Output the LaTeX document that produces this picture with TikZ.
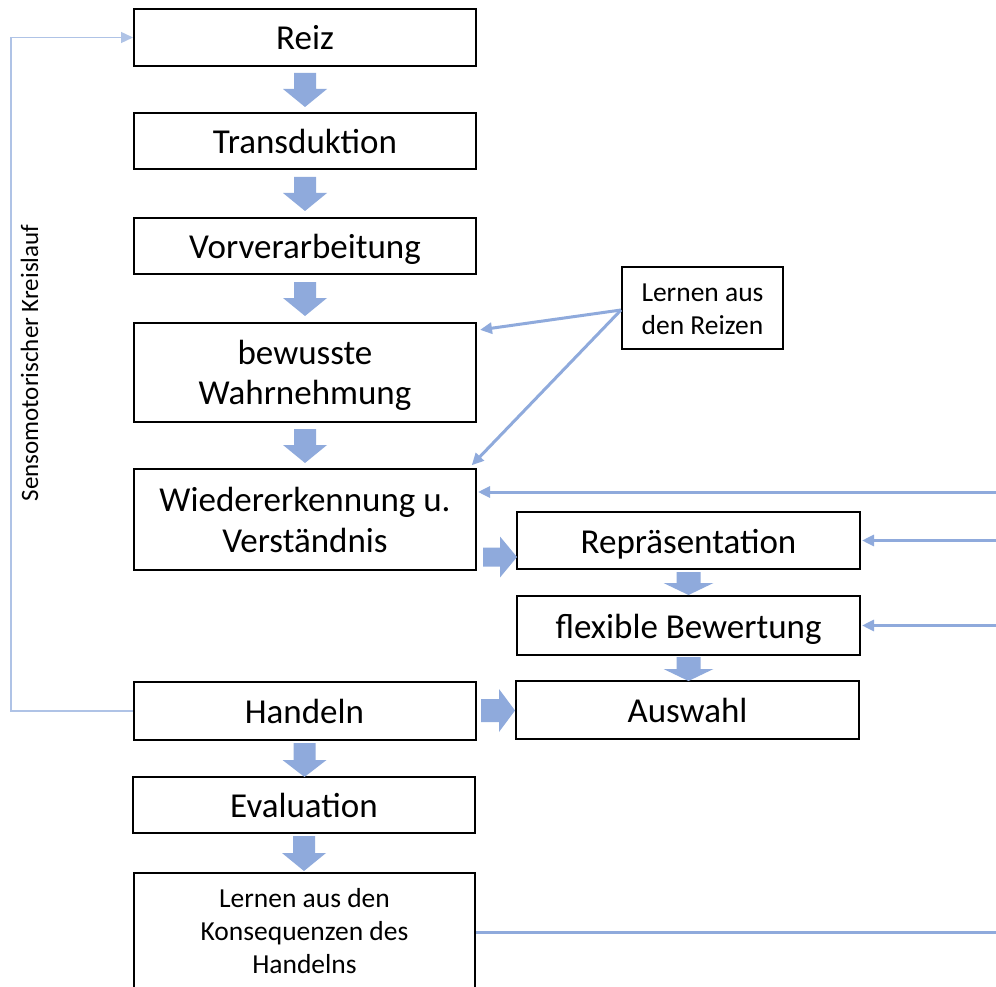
\documentclass[tikz,border=0pt]{standalone}
\usepackage{fontspec}
\setmainfont{Carlito}
\usetikzlibrary{arrows.meta,calc}
\definecolor{flowblue}{HTML}{8FAADC}
\definecolor{loopblue}{HTML}{AFC3E6}
% line struts for the two text sizes
\newcommand\bigstrut{\rule[-7.75pt]{0pt}{40.5pt}}
\newcommand\smallstrut{\rule[-6.75pt]{0pt}{33pt}}
\tikzset{
  stage/.style={draw=black, line width=2pt, fill=white, minimum width=342pt,
    inner sep=0pt, align=center, font=\fontsize{35}{40.5}\selectfont},
  smalltext/.style={font=\fontsize{27.5}{33}\selectfont},
  flowline/.style={draw=flowblue, line width=3pt, shorten >=1pt,
    -{Triangle[length=12pt, width=11pt]}},
  plainline/.style={draw=flowblue, line width=3pt},
  loopline/.style={draw=loopblue, line width=1.4pt,
    -{Triangle[length=12pt, width=11pt]}},
  % block arrows: total length / head length / half shaft width / half head width
  pics/downblock/.style args={#1/#2/#3/#4}{code={
    \fill[flowblue] (-#3,0) -- (#3,0) -- (#3,#1-#2) -- (#4,#1-#2) -- (0,#1)
      -- (-#4,#1-#2) -- (-#3,#1-#2) -- cycle;}},
  pics/rightblock/.style args={#1/#2/#3/#4}{code={
    \fill[flowblue] (0,-#3) -- (#1-#2,-#3) -- (#1-#2,-#4) -- (#1,0)
      -- (#1-#2,#4) -- (#1-#2,#3) -- (0,#3) -- cycle;}}
}
\begin{document}
\begin{tikzpicture}[x=1pt, y=-1pt]
\useasboundingbox (0,0) rectangle (996,987);
\clip (0,0) rectangle (996,987);
\fill[white] (0,0) rectangle (996,987);

% main column
\node[stage, minimum height=57pt] (reiz) at (305,37.5) {\bigstrut Reiz};
\node[stage, minimum height=56pt] (trans) at (305,141) {\bigstrut Transduktion};
\node[stage, minimum height=56pt] (vorv) at (305,246) {\bigstrut Vorverarbeitung};
\node[stage, minimum height=99pt] (wahr) at (305,372) {\bigstrut bewusste\\\bigstrut Wahrnehmung};
\node[stage, minimum height=101pt] (wieder) at (305,519.5) {\bigstrut Wiedererkennung u.\\\bigstrut Verständnis};
\node[stage, minimum height=58pt] (handeln) at (304.5,711) {\bigstrut Handeln};
\node[stage, minimum height=56pt] (eval) at (304,805) {\bigstrut Evaluation};
\node[stage, smalltext, minimum width=341pt, minimum height=116pt] (konseq) at (304.5,931)
  {\smallstrut Lernen aus den\\\smallstrut Konsequenzen des\\\smallstrut Handelns};

% side column
\node[stage, minimum width=343pt, minimum height=57pt] (repr) at (688.5,540.5) {\bigstrut Repräsentation};
\node[stage, minimum width=343pt, minimum height=59pt] (bewert) at (688.5,625.5) {\bigstrut flexible Bewertung};
\node[stage, minimum width=343pt, minimum height=58pt] (auswahl) at (687.5,710) {\bigstrut Auswahl};

% note box
\node[stage, smalltext, minimum width=161pt, minimum height=82pt] (reize) at (702.5,308)
  {\smallstrut Lernen aus\\\smallstrut den Reizen};

% loop label
\node[rotate=90, inner sep=0pt, font=\fontsize{25}{30}\selectfont] (kreis) at (29.5,363)
  {Sensomotorischer Kreislauf};

% block arrows down the main column
\pic at ($(reiz.south)+(0,6)$) {downblock=34/18/11/22};
\pic at ($(trans.south)+(0,7)$) {downblock=34/18/11/22};
\pic at ($(vorv.south)+(0,7)$) {downblock=34/18/11/22};
\pic at ($(wahr.south)+(0,6.5)$) {downblock=34/18/11/22};
\pic at ($(handeln.south)+(0,2)$) {downblock=34/17/11/22};
\pic at ($(eval.south)+(0,2)$) {downblock=35/18/11/22};

% block arrows in the side column
\pic at ($(repr.south)+(0,2)$) {downblock=23/12/12/25};
\pic at ($(bewert.south)+(0,1)$) {downblock=24/12/12/25};

% block arrows across
\pic at ($(wieder.east |- repr.center)+(6,16.5)$) {rightblock=34/17/9.5/20.5};
\pic at ($(handeln.east)+(4.5,-0.5)$) {rightblock=34/16/11.5/21.5};

% sensorimotor loop
\draw[loopline] (handeln.west) -- ++(-121.5,0) |- (reiz.west);

% inputs from the right edge
\coordinate (in1) at (1000,492);
\coordinate (in2) at (1000,540.5);
\coordinate (in3) at (1000,625.5);
\coordinate (out1) at (1000,932);
\draw[flowline] (in1) -- (in1 -| wieder.east);
\draw[flowline] (in2) -- (repr.east);
\draw[flowline] (in3) -- (bewert.east);
\draw[plainline] (konseq.east |- out1) -- (out1);

% learning from stimuli
\draw[flowline] ($(reize.west)+(0,2)$) -- ($(wahr.north east)+(2,8.5)$);
\draw[flowline] ($(reize.west)+(0,2)$) -- ($(wieder.north east)+(-6,-2)$);
\end{tikzpicture}
\end{document}
